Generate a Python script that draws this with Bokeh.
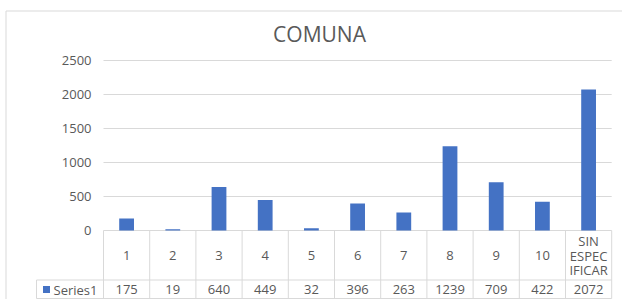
from bokeh.plotting import figure
from bokeh.models import Range1d
from bokeh.core.properties import value
from bokeh.embed import file_html
from bokeh.resources import INLINE

# ---- data ----
title_text = "COMUNA"
categories = ["1", "2", "3", "4", "5", "6", "7", "8", "9", "10", "SIN\nESPEC\nIFICAR"]
values = [175, 19, 640, 449, 32, 396, 263, 1239, 709, 422, 2072]
y_ticks = [0, 500, 1000, 1500, 2000, 2500]
series_name = "Series1"

# ---- layout (canvas pixels) ----
W, H = 622, 299
X0PX = 103.0     # canvas x of the first category boundary
CAT_W = 46.2     # px per category
Y0PX = 230.0     # canvas y of value 0
PXU = 34.0 / 500 # px per value unit

def dx(px):
    return (px - X0PX) / CAT_W

def dy(py):
    return (Y0PX - py) / PXU

FONT = value("Open Sans")
TXT = "#595959"
LINE = "#d9d9d9"
BLUE = "#4472C4"

p = figure(width=W, height=H, output_backend="svg", toolbar_location=None,
           x_range=Range1d(dx(0), dx(W)), y_range=Range1d(dy(H), dy(0)),
           x_axis_type=None, y_axis_type=None, min_border=0,
           outline_line_color=None, background_fill_color="white",
           border_fill_color="white")
p.grid.visible = False

n = len(categories)
centers = [i + 0.5 for i in range(n)]

# outer chart border
p.segment(x0=[dx(5.5)], x1=[dx(W + 2)], y0=[dy(10.5)], y1=[dy(10.5)], line_color=LINE, line_width=1)
p.segment(x0=[dx(5.5)], x1=[dx(5.5)], y0=[dy(10.5)], y1=[dy(H + 2)], line_color=LINE, line_width=1)

# gridlines
p.segment(x0=[0] * len(y_ticks), x1=[n] * len(y_ticks), y0=y_ticks, y1=y_ticks,
          line_color=LINE, line_width=1)

# y tick labels
p.text(x=[dx(91)] * len(y_ticks), y=y_ticks, text=[str(t) for t in y_ticks],
       text_align="right", text_baseline="middle", text_font=FONT,
       text_font_size="13px", text_color=TXT)

# bars
p.vbar(x=centers, top=values, bottom=0, width=0.32, fill_color=BLUE, line_color=None)

# data table lines
row_split = dy(279.5)
table_bot = dy(298)
p.segment(x0=list(range(n + 1)), x1=list(range(n + 1)), y0=[0] * (n + 1), y1=[table_bot] * (n + 1),
          line_color=LINE, line_width=1)
p.segment(x0=[dx(36), dx(36)], x1=[n, n], y0=[row_split, table_bot], y1=[row_split, table_bot],
          line_color=LINE, line_width=1)
p.segment(x0=[dx(36)], x1=[dx(36)], y0=[row_split], y1=[table_bot], line_color=LINE, line_width=1)

# category labels (multi-line labels split into separate lines)
LINE_STEP = 14.3
lx, ly, lt = [], [], []
for i, cat in enumerate(categories):
    parts = cat.split("\n")
    k = len(parts)
    for j, part in enumerate(parts):
        lx.append(i + 0.5)
        ly.append(dy(255 + (j - (k - 1) / 2) * LINE_STEP))
        lt.append(part)
p.text(x=lx, y=ly, text=lt, text_align="center", text_baseline="middle",
       text_font=FONT, text_font_size="13px", text_color=TXT)

# legend key + series name
p.rect(x=[dx(46)], y=[dy(289)], width=7, height=7, width_units="screen", height_units="screen",
       fill_color=BLUE, line_color=None)
p.text(x=[dx(53)], y=[dy(289)], text=[series_name], text_align="left", text_baseline="middle",
       text_font=FONT, text_font_size="13px", text_color=TXT)

# values
p.text(x=centers, y=[dy(289)] * n, text=[str(v) for v in values], text_align="center",
       text_baseline="middle", text_font=FONT, text_font_size="13px", text_color=TXT)

# title
p.text(x=[dx(319)], y=[dy(33)], text=[title_text], text_align="center", text_baseline="middle",
       text_font=FONT, text_font_size="21px", text_color=TXT)

open("out.html", "w").write(file_html(p, INLINE))
